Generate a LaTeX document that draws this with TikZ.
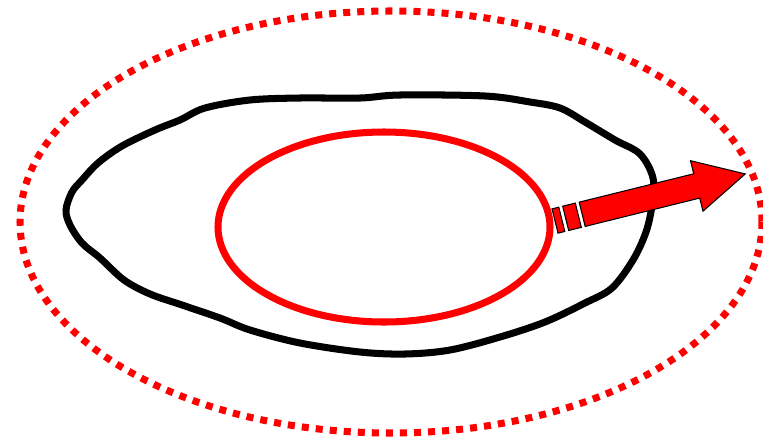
\documentclass[tikz,border=0pt]{standalone}
\usetikzlibrary{calc}

\begin{document}
\begin{tikzpicture}[x=0.03cm,y=-0.03cm,
    dotring/.style={red, line width=6pt, dash pattern=on 6pt off 6pt},
    redring/.style={red, line width=6pt},
    blob/.style={black, line width=6pt, line join=round},
    arrowpart/.style={fill=red, draw=black, line width=0.9pt, line join=miter}]
    \useasboundingbox (0,0) rectangle (763,441);

    % outer dotted ring
    \draw[dotring] (391,222) ellipse [x radius=371, y radius=211];

    % wobbly black outline
    \draw[blob] plot[smooth cycle, tension=0.55] coordinates {
        (66,210) (72,192) (82,180) (98,163) (122,146) (155,130)
        (180,120) (205,108) (250,100) (300,98) (360,98) (400,95)
        (485,96) (530,102) (560,108) (585,122) (615,140) (640,154)
        (653,178) (652,205) (646,232) (633,260) (612,288) (585,303)
        (545,322) (500,337) (450,350) (405,354) (360,352) (300,343)
        (250,330) (220,318) (182,305) (150,294) (124,280) (100,258)
        (82,243) (70,225)};

    % inner red ring
    \draw[redring] (384,227) ellipse [x radius=166, y radius=95];

    % striped arrow
    \coordinate (tail) at (555,221);
    \begin{scope}[shift={(tail)}, rotate=13.9]
        \draw[arrowpart] (0,-12.5) rectangle (7,12.5);
        \draw[arrowpart] (11,-12.5) rectangle (24,12.5);
        \draw[arrowpart] (28,-12.5) -- (146,-12.5) -- (146,-26) -- (196,0)
            -- (146,26) -- (146,12.5) -- (28,12.5) -- cycle;
    \end{scope}
\end{tikzpicture}
\end{document}
